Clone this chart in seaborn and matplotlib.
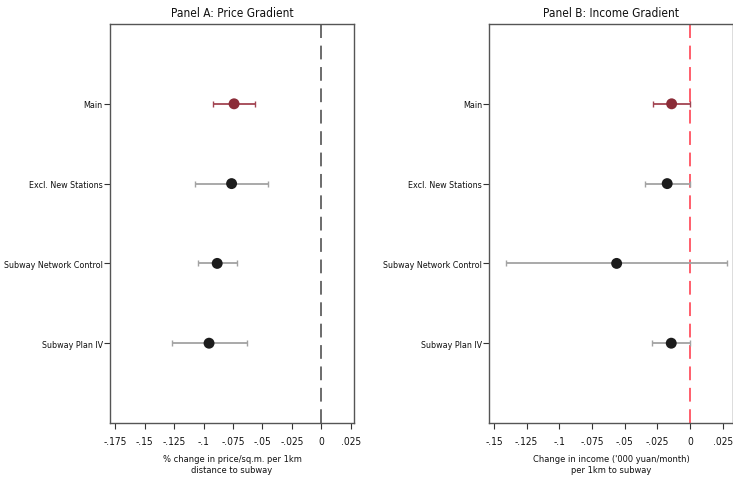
import numpy as np
import pandas as pd
import matplotlib
matplotlib.use("Agg")
import matplotlib.pyplot as plt
import seaborn as sns

sns.set_theme(style="white")
plt.rcParams['font.family'] = ['DejaVu Sans']
plt.rcParams['font.stretch'] = 'condensed'

categories = ["Main", "Excl. New Stations", "Subway Network Control", "Subway Plan IV"]

price_est = [-0.0741, -0.0762, -0.0884, -0.0953]
price_lo = [-0.0916, -0.1070, -0.1045, -0.1270]
price_hi = [-0.0562, -0.0450, -0.0719, -0.0628]

income_est = [-0.0140, -0.0174, -0.0561, -0.0143]
income_lo = [-0.0281, -0.0347, -0.1408, -0.0291]
income_hi = [0.0002, 0.0001, 0.0286, 0.0001]

price_ticks = [-0.175, -0.15, -0.125, -0.1, -0.075, -0.05, -0.025, 0, 0.025]
price_ticklabels = ["-.175", "-.15", "-.125", "-.1", "-.075", "-.05", "-.025", "0", ".025"]
income_ticks = [-0.15, -0.125, -0.1, -0.075, -0.05, -0.025, 0, 0.025]
income_ticklabels = ["-.15", "-.125", "-.1", "-.075", "-.05", "-.025", "0", ".025"]

fig = plt.figure(figsize=(7.33, 4.81), dpi=100)
axA = fig.add_axes([0.150, 0.1185, 0.333, 0.8295])
axB = fig.add_axes([0.6675, 0.1185, 0.332, 0.8295])

maroon = "#8b2c38"
maroon_ci = "#a24452"
dark = "#1c1c1c"
grey_ci = "#a3a3a3"

def panel(ax, est, lo, hi, ticks, ticklabels, xlim, title, xlabel, vcolor):
    df = pd.DataFrame({"cat": categories, "est": est, "lo": lo, "hi": hi})
    df["pos"] = np.arange(1, len(categories) + 1)
    df["grp"] = ["main"] + ["other"] * (len(categories) - 1)
    ax.axvline(0, color=vcolor, lw=1.1, dashes=(9, 5), zorder=1)
    for _, r in df.iterrows():
        c = maroon_ci if r["grp"] == "main" else grey_ci
        ax.errorbar(r["est"], r["pos"], xerr=[[r["est"] - r["lo"]], [r["hi"] - r["est"]]],
                    fmt="none", ecolor=c, elinewidth=1.3, capsize=2.5, capthick=1.0, zorder=2)
    sns.scatterplot(data=df, x="est", y="pos", hue="grp",
                    palette={"main": maroon, "other": dark}, s=62,
                    edgecolor="none", legend=False, ax=ax, zorder=3)
    ax.set_ylim(5, 0)
    ax.set_xlim(*xlim)
    ax.set_yticks(df["pos"])
    ax.set_yticklabels(categories, fontsize=6.4)
    ax.set_xticks(ticks)
    ax.set_xticklabels(ticklabels, fontsize=7.3)
    ax.tick_params(axis="both", direction="out", length=4, width=0.8, color="#333333",
                   bottom=True, left=True, labelcolor="#111111")
    ax.tick_params(axis="x", pad=5)
    ax.tick_params(axis="y", pad=1.2)
    ax.set_title(title, fontsize=8.6, pad=6, color="#111111")
    ax.set_xlabel(xlabel, fontsize=6.7, labelpad=6, color="#111111", linespacing=1.25)
    ax.set_ylabel("")
    for s in ax.spines.values():
        s.set_visible(True)
        s.set_color("#555555")
        s.set_linewidth(1.0)
    ax.set_facecolor("white")

panel(axA, price_est, price_lo, price_hi, price_ticks, price_ticklabels,
      (-0.1793, 0.0276), "Panel A: Price Gradient",
      "% change in price/sq.m. per 1km\ndistance to subway", "#444444")
panel(axB, income_est, income_lo, income_hi, income_ticks, income_ticklabels,
      (-0.1536, 0.0327), "Panel B: Income Gradient",
      "Change in income ('000 yuan/month)\nper 1km to subway", "#ff3344")

fig.savefig("out.png", dpi=100, facecolor="white")
